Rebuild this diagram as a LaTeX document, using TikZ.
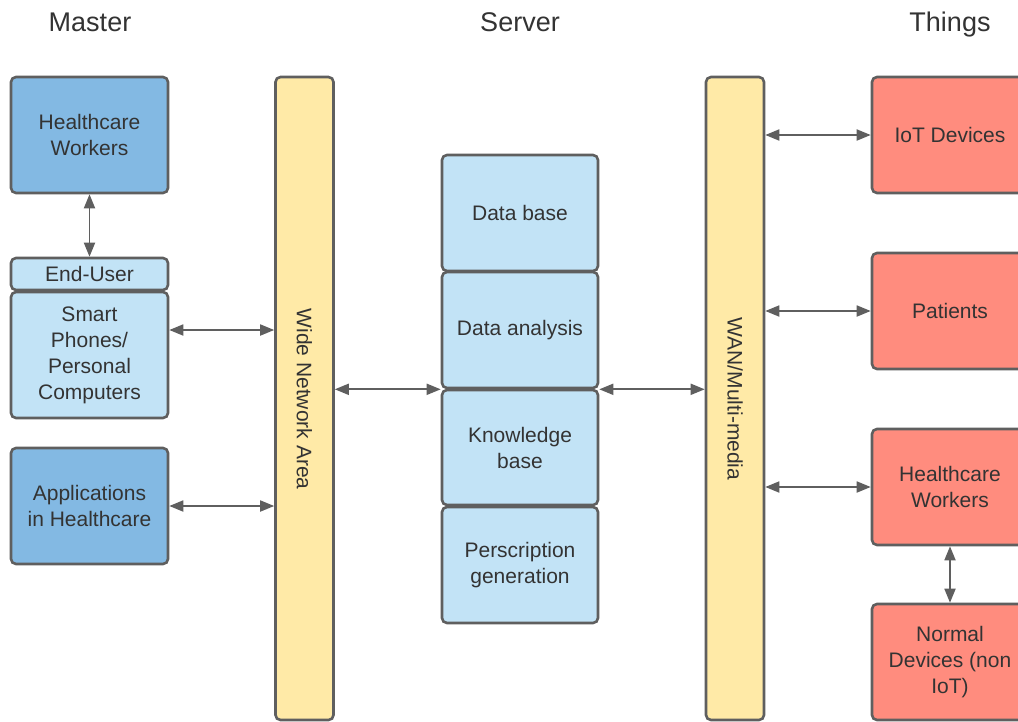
\documentclass[tikz,border=0pt]{standalone}
\usepackage{fontspec}
\setmainfont{Liberation Sans}
\usetikzlibrary{arrows.meta}
\definecolor{dblue}{HTML}{83B9E3}
\definecolor{lblue}{HTML}{C2E3F6}
\definecolor{ybar}{HTML}{FFEAA7}
\definecolor{rbox}{HTML}{FF8C7E}
\definecolor{edge}{HTML}{5F5F5F}
\definecolor{txt}{HTML}{333333}
\tikzset{
  box/.style={draw=edge, line width=2.6pt, rounded corners=5pt, align=center,
    text=txt, font=\fontsize{21}{26}\selectfont, inner sep=2pt},
  mbox/.style={box, fill=dblue, minimum width=157pt, minimum height=116pt},
  sbox/.style={box, fill=lblue, minimum width=156pt},
  tbox/.style={box, fill=rbox, minimum width=156pt, minimum height=116pt},
  bar/.style={box, fill=ybar, minimum width=58pt, minimum height=643pt},
  bartext/.style={text=txt, font=\fontsize{21}{26}\selectfont, rotate=-90},
  title/.style={text=txt, font=\fontsize{27}{32}\selectfont},
  link/.style={draw=edge, line width=1.8pt,
    {Triangle[length=14pt,width=11pt]}-{Triangle[length=14pt,width=11pt]}}
}
\begin{document}
\begin{tikzpicture}[x=1pt,y=-1pt]
\useasboundingbox (0,0) rectangle (1018,721);
\fill[white] (0,0) rectangle (1018,721);
% titles
\node[title] (tmaster) at (90,22) {Master};
\node[title] (tserver) at (520,22) {Server};
\node[title] (tthings) at (950,25) {Things};
% master column
\node[mbox] (mhw) at (89.5,135) {Healthcare\\Workers};
\node[sbox, minimum width=157pt, minimum height=32pt] (eu) at (89.5,274) {End-User};
\node[sbox, minimum width=157pt, minimum height=126pt] (smart) at (89.5,355) {Smart\\Phones/\\Personal\\Computers};
\node[mbox] (apps) at (89.5,506) {Applications\\in Healthcare};
% bars
\node[bar] (wna) at (304.5,398.5) {};
\node[bartext] (wnat) at (304.5,399) {Wide Network Area};
\node[bar] (wan) at (735,398.5) {};
\node[bartext] (want) at (735,399) {WAN/Multi-media};
% server column
\node[sbox, minimum height=116pt] (db) at (520,213) {Data base};
\node[sbox, minimum height=116pt] (da) at (520,330) {Data analysis};
\node[sbox, minimum height=115pt] (kb) at (520,447.5) {Knowledge\\base};
\node[sbox, minimum height=116pt] (pg) at (520,565) {Perscription\\generation};
% things column
\node[tbox] (iot) at (950,135) {IoT Devices};
\node[tbox] (pat) at (950,311) {Patients};
\node[tbox] (thw) at (950,487) {Healthcare\\Workers};
\node[tbox] (nd) at (950,662) {Normal\\Devices (non\\IoT)};
% connectors
\draw[link] (mhw.south) -- (eu.north);
\draw[link] ([yshift=25pt]smart.east) -- ([yshift=25pt]smart.east -| wna.west);
\draw[link] (apps.east) -- (apps.east -| wna.west);
\draw[link] (da.south west -| wna.east) -- (da.south west);
\draw[link] (da.south east) -- (da.south east -| wan.west);
\draw[link] (iot.west -| wan.east) -- (iot.west);
\draw[link] (pat.west -| wan.east) -- (pat.west);
\draw[link] (thw.west -| wan.east) -- (thw.west);
\draw[link] (thw.south) -- (nd.north);
\end{tikzpicture}
\end{document}
